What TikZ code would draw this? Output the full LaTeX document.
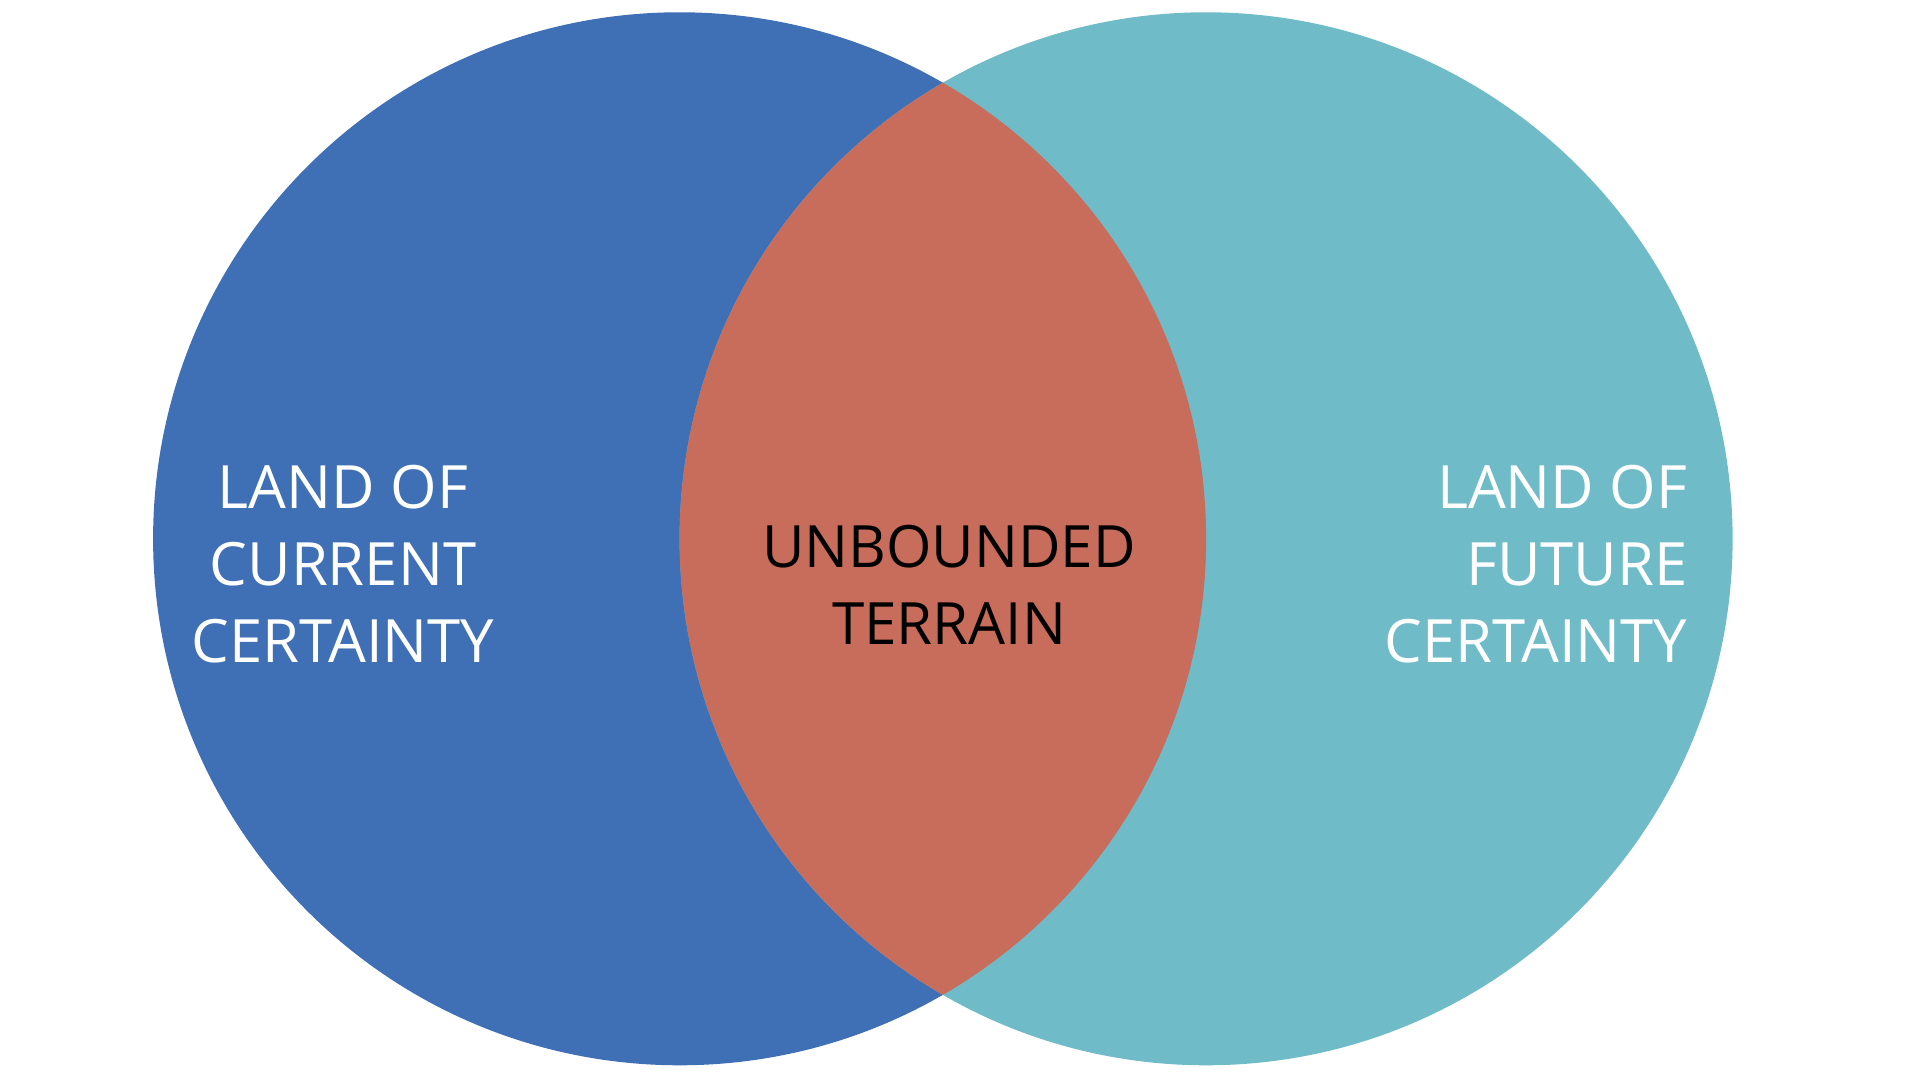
\documentclass[tikz,border=0pt]{standalone}
\usepackage{fontspec}
\setmainfont{Open Sans}
\usepackage{tikz}
\usepackage{xcolor}
\usetikzlibrary{positioning}
\definecolor{landBlue}{RGB}{63,111,181}
\definecolor{landTeal}{RGB}{111,188,200}
\definecolor{landRed}{RGB}{200,108,91}

\begin{document}
\begin{tikzpicture}[
  land/.style={text=white, font=\fontsize{17}{22}\selectfont, inner sep=0pt},
  middle/.style={text=black, font=\fontsize{16.6}{22}\selectfont, inner sep=0pt, align=center}
]
  \useasboundingbox (0,0) rectangle (19.2,10.8);
  \fill[landBlue] (6.796,5.412) circle (5.265);
  \fill[landTeal] (12.061,5.412) circle (5.265);
  % overlap
  \begin{scope}
    \clip (6.796,5.412) circle (5.265);
    \fill[landRed] (12.061,5.412) circle (5.265);
  \end{scope}
  \node[land, align=center] (current) at (3.43,5.16) {LAND OF\\CURRENT\\CERTAINTY};
  \node[middle] (terrain) at (9.49,4.95) {UNBOUNDED\\TERRAIN};
  \node[land, align=right, anchor=east] (future) at (16.88,5.16) {LAND OF\\FUTURE\\CERTAINTY};
\end{tikzpicture}
\end{document}
